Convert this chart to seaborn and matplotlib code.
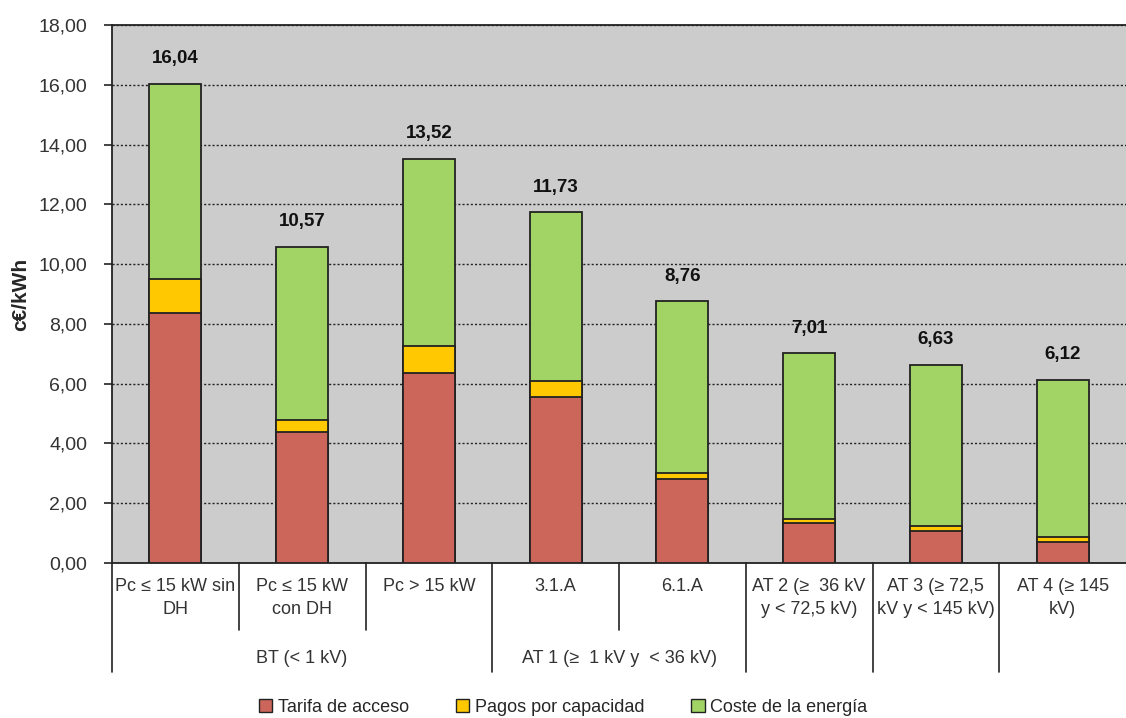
import numpy as np
import pandas as pd
import matplotlib.pyplot as plt
import seaborn as sns
from matplotlib.patches import Patch
from matplotlib.ticker import FuncFormatter, MultipleLocator

categories = [
    'Pc ≤ 15 kW sin\nDH',
    'Pc ≤ 15 kW\ncon DH',
    'Pc > 15 kW',
    '3.1.A',
    '6.1.A',
    'AT 2 (≥  36 kV\ny < 72,5 kV)',
    'AT 3 (≥ 72,5\nkV y < 145 kV)',
    'AT 4 (≥ 145\nkV)',
]
groups = ['BT (< 1 kV)', 'AT 1 (≥  1 kV y  < 36 kV)']
series = ['Tarifa de acceso', 'Pagos por capacidad', 'Coste de la energía']

tarifa = np.array([8.36, 4.38, 6.35, 5.55, 2.81, 1.34, 1.07, 0.70])
pagos = np.array([1.14, 0.40, 0.91, 0.54, 0.20, 0.13, 0.17, 0.17])
totales = np.array([16.04, 10.57, 13.52, 11.73, 8.76, 7.01, 6.63, 6.12])
coste = totales - tarifa - pagos

df = pd.DataFrame({
    'categoria': categories,
    'tarifa': tarifa,
    'tarifa_pagos': tarifa + pagos,
    'total': tarifa + pagos + coste,
})

colors = {'red': '#CC665A', 'yellow': '#FFC800', 'green': '#A2D465'}

sns.set_style('white')
plt.rcParams['font.family'] = ['Liberation Sans', 'DejaVu Sans']

fig = plt.figure(figsize=(11.26, 7.18), dpi=100)
ax = fig.add_axes([112 / 1126, (718 - 563) / 718, 1014 / 1126, 538 / 718])
ax.set_facecolor('#CCCCCC')

# stacked layers, drawn from the top down
bar_kw = dict(x='categoria', width=0.41, saturation=1, edgecolor='#222222',
              linewidth=1.3, ax=ax, zorder=3)
sns.barplot(data=df, y='total', color=colors['green'], **bar_kw)
sns.barplot(data=df, y='tarifa_pagos', color=colors['yellow'], **bar_kw)
sns.barplot(data=df, y='tarifa', color=colors['red'], **bar_kw)

# totals above bars
for i, t in enumerate(totales):
    ax.annotate(f'{t:.2f}'.replace('.', ','), (i, t), xytext=(0, 12),
                textcoords='offset points', ha='center', va='bottom',
                fontsize=13.5, fontweight='bold', color='#111111')

ax.set_xlim(-0.5, len(categories) - 0.5)
ax.set_ylim(0, 18)
ax.yaxis.set_major_locator(MultipleLocator(2))
ax.yaxis.set_major_formatter(FuncFormatter(lambda v, p: f'{v:.2f}'.replace('.', ',')))
ax.grid(axis='y', linestyle=(0, (1.5, 1.5)), color='#222222', linewidth=1.0, zorder=0)
ax.set_axisbelow(True)
ax.tick_params(axis='y', direction='out', length=6, width=1.2, color='#222222',
               labelsize=14, labelcolor='#333333', pad=12, left=True)
ax.set_ylabel('c€/kWh', fontsize=15, fontweight='bold', labelpad=6)
ax.set_xlabel('')

for side in ['left', 'top', 'bottom']:
    ax.spines[side].set_color('#222222')
    ax.spines[side].set_linewidth(1.3)
ax.spines['right'].set_visible(False)

# first level category labels
ax.set_xticks(range(len(categories)))
ax.set_xticklabels(categories, fontsize=13, color='#333333',
                   linespacing=1.45, va='top')
ax.tick_params(axis='x', length=0, pad=11)

# second level group labels and separators
trans = ax.get_xaxis_transform()
ax.text(1, -0.177, groups[0], transform=trans, ha='center', va='center',
        fontsize=13, color='#333333')
ax.text(3.5, -0.177, groups[1], transform=trans, ha='center', va='center',
        fontsize=13, color='#333333')
for xs in [0.5, 1.5, 3.5]:
    ax.plot([xs, xs], [0, -0.1245], transform=trans, color='#222222',
            linewidth=1.2, clip_on=False)
for xs in [-0.5, 2.5, 4.5, 5.5, 6.5]:
    ax.plot([xs, xs], [0, -0.2026], transform=trans, color='#222222',
            linewidth=1.2, clip_on=False)

handles = [Patch(facecolor=colors['red'], edgecolor='#222222', label=series[0]),
           Patch(facecolor=colors['yellow'], edgecolor='#222222', label=series[1]),
           Patch(facecolor=colors['green'], edgecolor='#222222', label=series[2])]
fig.legend(handles=handles, loc='center', bbox_to_anchor=(0.5, 11 / 718),
           ncol=3, frameon=False, handlelength=0.75, handleheight=0.75,
           handletextpad=0.3, columnspacing=2.6,
           prop={'size': 13})

fig.savefig('out.png', dpi=100)
